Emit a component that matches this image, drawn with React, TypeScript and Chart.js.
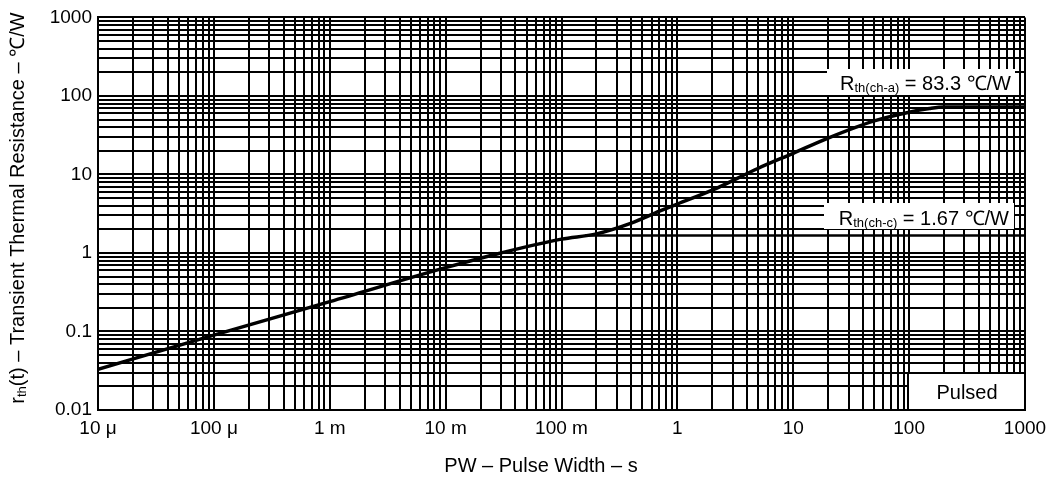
import { useEffect, useRef } from 'react';
import { Chart, registerables } from 'chart.js';

Chart.register(...registerables);

// Transient thermal resistance curve
const pulseWidth = [1e-5, 1e-4, 1e-3, 1e-2, 3e-2, 0.1, 0.2, 0.4, 0.7, 1, 2, 5, 10, 20, 50, 100, 150, 200, 1000];
const rthT = [0.033, 0.09, 0.24, 0.65, 1.0, 1.5, 1.75, 2.4, 3.4, 4.2, 6.3, 12, 18.6, 29, 48, 62, 69, 72, 72];

// Rth(ch-c) steady-state line
const rthChcX = [0.16, 1000];
const rthChcY = [1.67, 1.67];

// Axis decades and labels
const xDecades = [1e-5, 1e-4, 1e-3, 1e-2, 1e-1, 1, 10, 100, 1000];
const xTickLabels = ['10 μ', '100 μ', '1 m', '10 m', '100 m', '1', '10', '100', '1000'];
const yDecades = [0.01, 0.1, 1, 10, 100, 1000];
const yTickLabels = ['0.01', '0.1', '1', '10', '100', '1000'];

const FONT = '"Liberation Sans", Arial, sans-serif';

function logTicks(decades: number[]) {
  const out: { value: number }[] = [];
  for (let i = 0; i < decades.length - 1; i++) {
    for (let m = 1; m <= 9; m++) out.push({ value: decades[i] * m });
  }
  out.push({ value: decades[decades.length - 1] });
  return out;
}

function labelFor(value: number, decades: number[], labels: string[]) {
  for (let i = 0; i < decades.length; i++) {
    if (Math.abs(Math.log10(value) - Math.log10(decades[i])) < 1e-6) return labels[i];
  }
  return '';
}

type Piece = { t: string; size: number; dy: number };

function drawPieces(ctx: CanvasRenderingContext2D, pieces: Piece[], x: number, y: number, align: 'left' | 'center' | 'right', baseline: CanvasTextBaseline = 'alphabetic') {
  let total = 0;
  const widths = pieces.map((p) => {
    ctx.font = `${p.size}px ${FONT}`;
    const w = ctx.measureText(p.t).width;
    total += w;
    return w;
  });
  let cx = align === 'left' ? x : align === 'center' ? x - total / 2 : x - total;
  ctx.textAlign = 'left';
  ctx.textBaseline = baseline;
  pieces.forEach((p, i) => {
    ctx.font = `${p.size}px ${FONT}`;
    ctx.fillText(p.t, cx, y + p.dy);
    cx += widths[i];
  });
  return total;
}

const annotations = {
  id: 'annotations',
  afterDraw(chart: any) {
    const ctx: CanvasRenderingContext2D = chart.ctx;
    const area = chart.chartArea;
    ctx.save();

    // Rth(ch-a) label
    ctx.fillStyle = '#fff';
    ctx.fillRect(area.right - 198, 69, 188, 26);
    ctx.fillStyle = '#000';
    drawPieces(ctx, [
      { t: 'R', size: 20, dy: 0 },
      { t: 'th(ch-a)', size: 13, dy: 2 },
      { t: ' = 83.3 ℃/W', size: 20, dy: 0 },
    ], area.right - 14, 90, 'right');

    // Rth(ch-c) label
    ctx.fillStyle = '#fff';
    ctx.fillRect(area.right - 201, 203, 190, 26);
    ctx.fillStyle = '#000';
    drawPieces(ctx, [
      { t: 'R', size: 20, dy: 0 },
      { t: 'th(ch-c)', size: 13, dy: 2 },
      { t: ' = 1.67 ℃/W', size: 20, dy: 0 },
    ], area.right - 16, 225, 'right');

    // Pulsed box
    ctx.fillStyle = '#fff';
    ctx.fillRect(area.right - 117, area.bottom - 37, 117, 37);
    ctx.strokeStyle = '#000';
    ctx.lineWidth = 2;
    ctx.strokeRect(area.right - 117, area.bottom - 37, 117, 37);
    ctx.fillStyle = '#000';
    ctx.font = `20px ${FONT}`;
    ctx.textAlign = 'center';
    ctx.textBaseline = 'middle';
    ctx.fillText('Pulsed', area.right - 58, area.bottom - 17);

    // X axis title
    ctx.font = `20px ${FONT}`;
    ctx.textAlign = 'center';
    ctx.textBaseline = 'middle';
    ctx.fillText('PW – Pulse Width – s', 541, 466);

    // Y axis title (rotated, with subscript)
    ctx.translate(18, 208);
    ctx.rotate(-Math.PI / 2);
    drawPieces(ctx, [
      { t: 'r', size: 20, dy: 0 },
      { t: 'th', size: 13, dy: 4 },
      { t: '(t) – Transient Thermal Resistance – ℃/W', size: 20, dy: 0 },
    ], 0, 0, 'center', 'middle');

    ctx.restore();
  },
};

export default function App() {
  const ref = useRef<HTMLCanvasElement | null>(null);

  useEffect(() => {
    if (!ref.current) return;
    const chart = new Chart(ref.current, {
      type: 'line',
      data: {
        datasets: [
          {
            data: pulseWidth.map((x, i) => ({ x, y: rthT[i] })),
            borderColor: '#000',
            borderWidth: 3.5,
            pointRadius: 0,
            cubicInterpolationMode: 'monotone',
            fill: false,
          },
          {
            data: rthChcX.map((x, i) => ({ x, y: rthChcY[i] })),
            borderColor: '#000',
            borderWidth: 2.5,
            pointRadius: 0,
            fill: false,
          },
        ],
      },
      options: {
        animation: false,
        responsive: true,
        maintainAspectRatio: false,
        layout: { padding: { left: 0, right: 33, top: 15, bottom: 0 } },
        plugins: { legend: { display: false }, tooltip: { enabled: false }, title: { display: false } },
        scales: {
          x: {
            type: 'logarithmic',
            min: 1e-5,
            max: 1000,
            afterBuildTicks: (scale: any) => { scale.ticks = logTicks(xDecades); },
            afterFit: (scale: any) => { scale.height = 69; },
            ticks: {
              autoSkip: false,
              maxRotation: 0,
              padding: 7,
              color: '#000',
              font: { family: FONT, size: 19 },
              callback: (v: any) => labelFor(Number(v), xDecades, xTickLabels),
            },
            grid: { color: '#000', lineWidth: 2, drawTicks: false },
            border: { color: '#000', width: 2 },
          },
          y: {
            type: 'logarithmic',
            min: 0.01,
            max: 1000,
            afterBuildTicks: (scale: any) => { scale.ticks = logTicks(yDecades); },
            afterFit: (scale: any) => { scale.width = 98; },
            ticks: {
              autoSkip: false,
              padding: 6,
              color: '#000',
              font: { family: FONT, size: 19 },
              callback: (v: any) => labelFor(Number(v), yDecades, yTickLabels),
            },
            grid: { color: '#000', lineWidth: 2, drawTicks: false },
            border: { color: '#000', width: 2 },
          },
        },
      },
      plugins: [annotations],
    } as any);
    return () => chart.destroy();
  }, []);

  return (
    <div style={{ position: 'absolute', left: 0, top: 0, width: 1058, height: 479, background: '#fff' }}>
      <canvas ref={ref} />
    </div>
  );
}
